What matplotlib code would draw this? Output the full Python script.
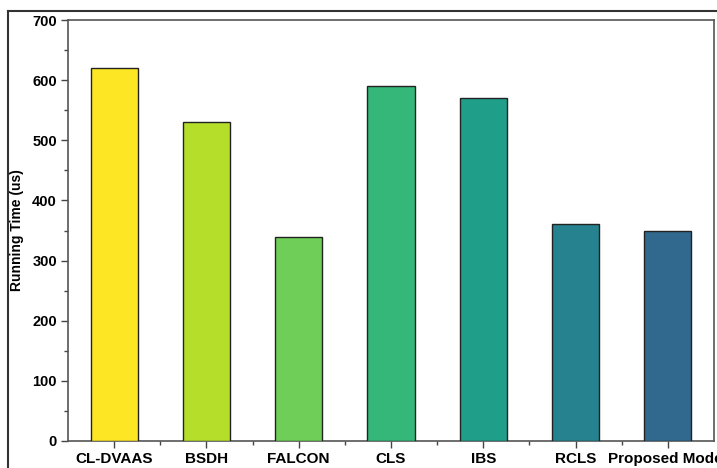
import matplotlib.pyplot as plt
from matplotlib.lines import Line2D
from matplotlib.ticker import MultipleLocator

# --------------------------------------------------
# Data
# --------------------------------------------------
methods = ["CL-DVAAS", "BSDH", "FALCON", "CLS", "IBS", "RCLS", "Proposed Model"]
running_time = [620, 530, 340, 590, 570, 360, 350]
bar_colors = ["#FDE725", "#B5DE2B", "#6ECE58", "#35B779", "#1F9E89", "#26828E", "#31688E"]


def main():
    plt.rcParams["font.family"] = ["Liberation Sans", "DejaVu Sans"]
    plt.rcParams["font.weight"] = "bold"

    fig = plt.figure(figsize=(7.17, 4.68), dpi=100)
    ax = fig.add_axes([68 / 717, 27 / 468, 646 / 717, 421 / 468])

    x = range(len(methods))
    ax.bar(x, running_time, width=0.51, color=bar_colors,
           edgecolor="#222222", linewidth=1.0, zorder=3)

    ax.set_xlim(-0.5, 6.5)
    ax.set_ylim(0, 700)
    ax.set_xticks(list(x))
    ax.set_xticklabels(methods, fontsize=11, fontweight="bold")
    ax.xaxis.set_minor_locator(MultipleLocator(1.0))
    ax.set_xticks([i + 0.5 for i in range(len(methods) - 1)], minor=True)
    ax.yaxis.set_major_locator(MultipleLocator(100))
    ax.yaxis.set_minor_locator(MultipleLocator(50))
    ax.tick_params(axis="y", labelsize=10.5)
    for lab in ax.get_yticklabels():
        lab.set_fontweight("bold")

    ax.tick_params(which="major", direction="out", length=5, width=1.0,
                   color="#444444", pad=3)
    ax.tick_params(which="minor", direction="out", length=3, width=1.0,
                   color="#444444")
    ax.set_ylabel("Running Time (us)", fontsize=10, fontweight="bold", labelpad=6)

    for s in ax.spines.values():
        s.set_color("#555555")
        s.set_linewidth(1.2)

    # outer frame of the original figure
    fig.add_artist(Line2D([8 / 717, 8 / 717], [0, 1 - 11 / 468],
                          transform=fig.transFigure, color="#333333", lw=1.5))
    fig.add_artist(Line2D([8 / 717, 1], [1 - 11 / 468, 1 - 11 / 468],
                          transform=fig.transFigure, color="#333333", lw=1.5))

    plt.savefig("out.png", dpi=100)


if __name__ == "__main__":
    main()
